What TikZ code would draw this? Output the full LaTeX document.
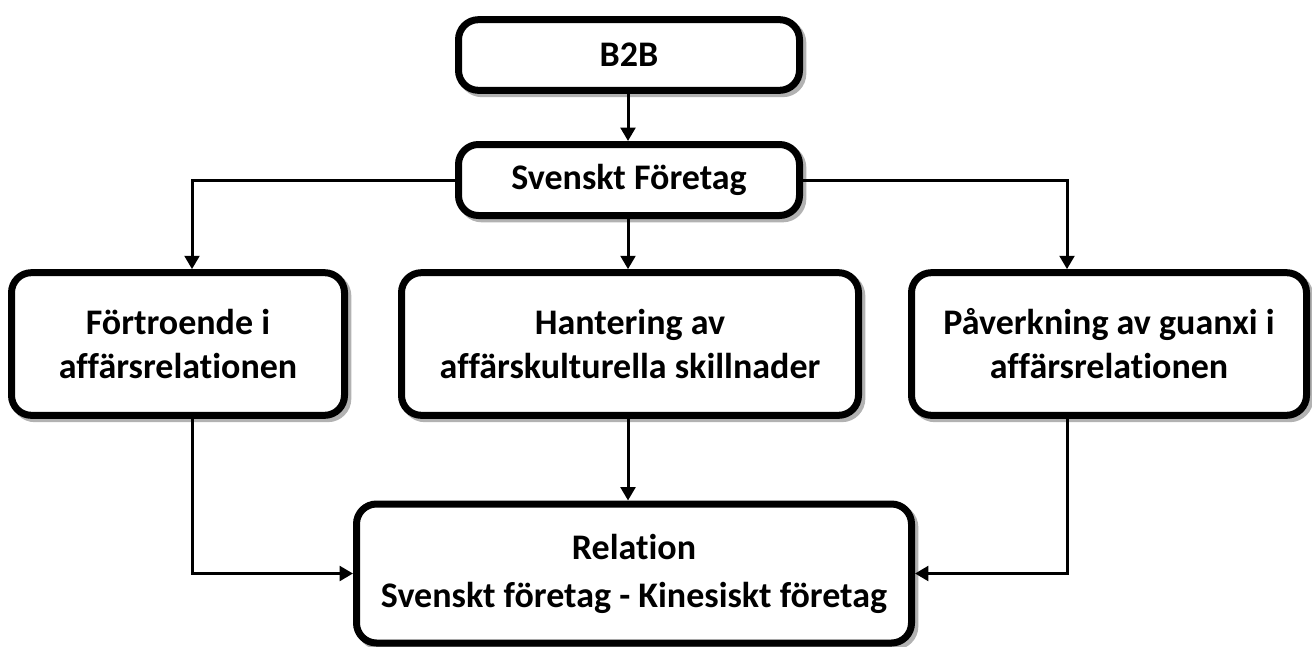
\documentclass[tikz,border=0pt]{standalone}
\usepackage{fontspec}
\setmainfont{Carlito}[Ligatures=NoCommon]
\usetikzlibrary{arrows.meta,shadows}

\begin{document}
\begin{tikzpicture}[x=0.75pt,y=-0.75pt,
        >={Triangle[length=10pt,width=11pt]},
        box/.style={draw,line width=5.25pt,rounded corners=15pt,fill=white,
            align=center,inner sep=0pt,font=\fontsize{27}{33}\selectfont\bfseries,
            general shadow={shadow xshift=2.5pt,shadow yshift=-2.5pt,
                draw=black!30,line width=5.25pt}},
        link/.style={->,line width=2.25pt}]
    \useasboundingbox (0,0) rectangle (1312,646);
    % top
    \node[box,minimum width=255.75pt,minimum height=53pt] (b2b) at (629,55) {B2B};
    \node[box,minimum width=255.75pt,minimum height=53.25pt] (svensk) at (629,180) {Svenskt Företag};
    % middle row
    \node[box,minimum width=249.75pt,minimum height=107pt] (fortroende) at (178,344)
        {Förtroende i\\affärsrelationen};
    \node[box,minimum width=342.75pt,minimum height=107pt] (hantering) at (630,344)
        {Hantering av\\affärskulturella skillnader};
    \node[box,minimum width=296.25pt,minimum height=107pt] (paverkan) at (1109,344)
        {Påverkning av guanxi i\\affärsrelationen};
    % bottom
    \node[box,minimum width=416.25pt,minimum height=104.25pt] (relation) at (634,573.5)
        {Relation\\[3pt]Svenskt företag - Kinesiskt företag};
    \draw[link] (b2b.south -| 628,0) -- (svensk.north -| 628,0);
    \draw[link] (svensk.west) -| ([xshift=10.5pt]fortroende.north);
    \draw[link] (svensk.east) -| ([xshift=-31.5pt]paverkan.north);
    \draw[link] (svensk.south -| 628,0) -- (hantering.north -| 628,0);
    \draw[link] ([xshift=10.5pt]fortroende.south) |- (relation.west);
    \draw[link] (hantering.south -| 628,0) -- (relation.north -| 628,0);
    \draw[link] ([xshift=-31.5pt]paverkan.south) |- (relation.east);
\end{tikzpicture}
\end{document}
